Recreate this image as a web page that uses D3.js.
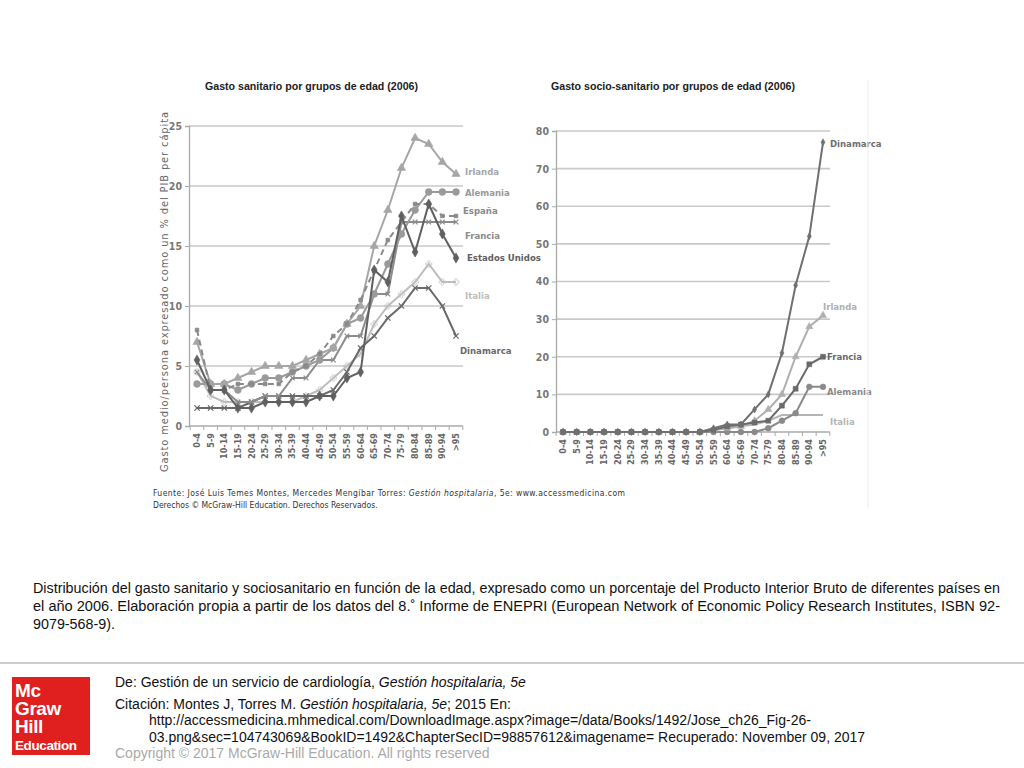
<!DOCTYPE html>
<html>
<head>
<meta charset="utf-8">
<script src="https://cdn.jsdelivr.net/npm/d3@7"></script>
<style>
  body { margin: 0; background: #fff; }
  text { font-family: "Liberation Sans", Arial, sans-serif; }
  .cond { font-family: "DejaVu Sans Condensed", "Liberation Sans Narrow", sans-serif; }
</style>
</head>
<body>
<div id="chart"></div>
<script>
// age groups shared by both charts
var ages = ["0-4", "5-9", "10-14", "15-19", "20-24", "25-29", "30-34", "35-39", "40-44", "45-49",
  "50-54", "55-59", "60-64", "65-69", "70-74", "75-79", "80-84", "85-89", "90-94", ">95"];

// Gasto sanitario (% PIB per cápita)
var irlanda = [7, 3.5, 3.5, 4, 4.5, 5, 5, 5, 5.5, 6, 6.5, 8.5, 10, 15, 18, 21.5, 24, 23.5, 22, 21];
var alemania = [3.5, 3.5, 3.5, 3, 3.5, 4, 4, 4.5, 5, 5.5, 6.5, 8.5, 9, 11, 13.5, 16, 18, 19.5, 19.5, 19.5];
var espana = [8, 3, 3, 3.5, 3.5, 3.5, 3.5, 4.5, 5, 6, 7.5, 8.5, 10.5, 13, 15.5, 17, 18.5, 18.5, 17.5, 17.5];
var francia = [4.5, 3, 3, 2, 2, 2.5, 2.5, 4, 4, 5.5, 5.5, 7.5, 7.5, 11, 11, 17, 17, 17, 17, 17];
var eeuu = [5.5, 3, 3, 1.5, 1.5, 2, 2, 2, 2, 2.5, 2.5, 4, 4.5, 13, 12, 17.5, 14.5, 18.5, 16, 14];
var italia = [4.5, 2.5, 2, 2, 2, 2, 2, 2, 2.5, 3, 4, 5, 6, 8.5, 10, 11, 12, 13.5, 12, 12];
var dinamarca = [1.5, 1.5, 1.5, 1.5, 2, 2.5, 2.5, 2.5, 2.5, 2.5, 3, 4.5, 6.5, 7.5, 9, 10, 11.5, 11.5, 10, 7.5];

// Gasto socio-sanitario
var dinamarcaSS = [0, 0, 0, 0, 0, 0, 0, 0, 0, 0, 0, 1, 2, 2, 6, 10, 21, 39, 52, 77];
var irlandaSS = [0, 0, 0, 0, 0, 0, 0, 0, 0, 0, 0, 0.5, 1, 1.5, 3, 6, 10, 20, 28, 31];
var franciaSS = [0, 0, 0, 0, 0, 0, 0, 0, 0, 0, 0, 0.5, 1.5, 2, 2.5, 3, 7, 11.5, 18, 20];
var alemaniaSS = [0, 0, 0, 0, 0, 0, 0, 0, 0, 0, 0, 0, 0, 0, 0, 1, 3, 5, 12, 12];
var italiaSS = [0, 0, 0, 0, 0, 0, 0, 0, 0, 0, 0, 0.5, 1, 1.5, 2, 3, 4.5, 4.5, 4.5, 4.5];

var leftTicks = [0, 5, 10, 15, 20, 25];
var rightTicks = [0, 10, 20, 30, 40, 50, 60, 70, 80];

var svg = d3.select("#chart").append("svg")
  .attr("width", 1024).attr("height", 768);
svg.append("rect").attr("width", 1024).attr("height", 768).attr("fill", "#fff");

function drawPanel(cfg) {
  var g = svg.append("g");
  var x = d3.scalePoint().domain(ages).range(cfg.xr);
  var y = d3.scaleLinear().domain(cfg.yd).range(cfg.yr);
  var step = x.step();

  // gridlines
  g.selectAll("line.grid").data(cfg.ticks.slice(1)).join("line")
    .attr("x1", cfg.x0).attr("x2", cfg.x1)
    .attr("y1", d => y(d)).attr("y2", d => y(d))
    .attr("stroke", "#c9c9c9").attr("stroke-width", 1.6);

  // axes
  var yAxis = d3.axisLeft(y).tickValues(cfg.ticks).tickSize(4).tickPadding(3);
  var ga = g.append("g").attr("transform", `translate(${cfg.x0},0)`).call(yAxis);
  ga.select(".domain").attr("stroke", "#aaa").attr("stroke-width", 1.3);
  ga.selectAll(".tick line").attr("stroke", "#aaa");
  ga.selectAll(".tick text").attr("class", "cond").attr("font-size", 10.5)
    .attr("fill", "#777").attr("font-weight", "bold");

  g.append("line").attr("x1", cfg.x0).attr("x2", cfg.x1)
    .attr("y1", y(0)).attr("y2", y(0)).attr("stroke", "#aaa").attr("stroke-width", 1.3);
  g.selectAll("line.xt").data(d3.range(ages.length + 1)).join("line")
    .attr("x1", i => cfg.xr[0] - step / 2 + i * step)
    .attr("x2", i => cfg.xr[0] - step / 2 + i * step)
    .attr("y1", y(0)).attr("y2", y(0) + 4).attr("stroke", "#aaa");
  g.selectAll("text.xl").data(ages).join("text")
    .attr("class", "cond")
    .attr("transform", d => `translate(${x(d) + 3},${y(0) + 7}) rotate(-90)`)
    .attr("text-anchor", "end").attr("font-size", 9).attr("font-weight", "bold")
    .attr("fill", "#666").text(d => d);

  // title
  g.append("text").attr("x", cfg.titleX).attr("y", 90)
    .attr("font-size", 11).attr("font-weight", "bold").attr("fill", "#222")
    .attr("textLength", cfg.titleW).attr("lengthAdjust", "spacingAndGlyphs")
    .text(cfg.title);

  var line = d3.line().x((d, i) => x(ages[i])).y(d => y(d));
  cfg.series.forEach(function (s) {
    g.append("path").datum(s.values)
      .attr("d", line).attr("fill", "none")
      .attr("stroke", s.color).attr("stroke-width", s.width || 2)
      .attr("stroke-dasharray", s.dash || null);
    if (s.symbol) {
      var sym = d3.symbol().type(s.symbol).size(s.size || 28);
      g.selectAll(null).data(s.values).join("path")
        .attr("transform", (d, i) => `translate(${x(ages[i])},${y(d)})`)
        .attr("d", sym)
        .attr("fill", s.symbol === d3.symbolX || s.symbol === d3.symbolCross ? "none" : s.color)
        .attr("stroke", s.color).attr("stroke-width", s.symbol === d3.symbolX ? 1.3 : 0.6);
    }
    g.append("text").attr("class", "cond")
      .attr("x", s.lx).attr("y", s.ly)
      .attr("font-size", 9.5).attr("font-weight", "bold").attr("fill", s.labelColor || s.color)
      .text(s.name);
  });
}

drawPanel({
  xr: [197, 456], yd: [0, 25], yr: [426, 126], x0: 189, x1: 463, ticks: leftTicks,
  title: "Gasto sanitario por grupos de edad (2006)", titleX: 205, titleW: 213,
  series: [
    { name: "Italia", values: italia, color: "#bdbdbd", symbol: d3.symbolCross, size: 22, lx: 465, ly: 299 },
    { name: "Dinamarca", values: dinamarca, color: "#6a6a6a", symbol: d3.symbolX, size: 20, lx: 460, ly: 354 },
    { name: "Francia", values: francia, color: "#8c8c8c", symbol: d3.symbolX, size: 16, lx: 465, ly: 239 },
    { name: "Alemania", values: alemania, color: "#9a9a9a", symbol: d3.symbolCircle, size: 36, lx: 465, ly: 196 },
    { name: "Irlanda", values: irlanda, color: "#a6a6a6", symbol: d3.symbolTriangle, size: 30, lx: 465, ly: 175 },
    { name: "España", values: espana, color: "#8a8a8a", dash: "6,4", symbol: d3.symbolSquare, size: 14, lx: 463, ly: 214 },
    { name: "Estados Unidos", values: eeuu, color: "#606060", symbol: d3.symbolDiamond, size: 30, lx: 467, ly: 261 }
  ]
});

drawPanel({
  xr: [563, 823], yd: [0, 80], yr: [432, 131], x0: 556, x1: 830, ticks: rightTicks,
  title: "Gasto socio-sanitario por grupos de edad (2006)", titleX: 551, titleW: 244,
  series: [
    { name: "Italia", values: italiaSS, color: "#b5b5b5", lx: 830, ly: 425 },
    { name: "Alemania", values: alemaniaSS, color: "#8a8a8a", symbol: d3.symbolCircle, size: 26, lx: 827, ly: 395 },
    { name: "Irlanda", values: irlandaSS, color: "#b0b0b0", symbol: d3.symbolTriangle, size: 22, lx: 823, ly: 310 },
    { name: "Francia", values: franciaSS, color: "#6a6a6a", symbol: d3.symbolSquare, size: 24, lx: 827, ly: 360 },
    { name: "Dinamarca", values: dinamarcaSS, color: "#707070", symbol: d3.symbolDiamond, size: 14, lx: 830, ly: 147 }
  ]
});

// y axis title left chart
svg.append("text").attr("class", "cond")
  .attr("transform", "translate(168,292) rotate(-90)")
  .attr("text-anchor", "middle").attr("font-size", 11).attr("fill", "#666")
  .attr("textLength", 360).attr("lengthAdjust", "spacing")
  .text("Gasto medio/persona expresado como un % del PIB per cápita");

// faint frame edge of the right figure
svg.append("line").attr("x1", 868).attr("x2", 868).attr("y1", 80).attr("y2", 508)
  .attr("stroke", "#eee");

// source lines
var src = svg.append("text").attr("class", "cond").attr("x", 153).attr("y", 496)
  .attr("font-size", 8.5).attr("fill", "#333").attr("textLength", 472).attr("lengthAdjust", "spacing");
src.append("tspan").text("Fuente: José Luis Temes Montes, Mercedes Mengíbar Torres: ");
src.append("tspan").attr("font-style", "italic").text("Gestión hospitalaria");
src.append("tspan").text(", 5e: www.accessmedicina.com");
svg.append("text").attr("class", "cond").attr("x", 153).attr("y", 508)
  .attr("font-size", 8.5).attr("fill", "#333")
  .text("Derechos © McGraw-Hill Education. Derechos Reservados.");

// caption
var caption = [
  "Distribución del gasto sanitario y sociosanitario en función de la edad, expresado como un porcentaje del Producto Interior Bruto de diferentes países en",
  "el año 2006. Elaboración propia a partir de los datos del 8.˚   Informe de ENEPRI (European Network of Economic Policy Research Institutes, ISBN 92-",
  "9079-568-9)."
];
svg.selectAll("text.cap").data(caption).join("text")
  .attr("x", 33).attr("y", (d, i) => 593 + i * 18)
  .attr("font-size", 14).attr("fill", "#111")
  .attr("textLength", (d, i) => i < 2 ? 967 : 82)
  .attr("lengthAdjust", "spacingAndGlyphs")
  .text(d => d);

// separator
svg.append("line").attr("x1", 0).attr("x2", 1024).attr("y1", 663).attr("y2", 663)
  .attr("stroke", "#ccc").attr("stroke-width", 2);

// logo (one text block, one line per word)
var logo = svg.append("g");
logo.append("rect").attr("x", 12).attr("y", 677).attr("width", 78).attr("height", 78).attr("fill", "#e0201f");
var logoText = logo.append("text").attr("font-weight", "bold").attr("fill", "#fff").attr("letter-spacing", -0.4);
[["Mc", 697, 19], ["Graw", 715, 19], ["Hill", 733, 19], ["Education", 750, 13.5]].forEach(function (t) {
  logoText.append("tspan").attr("x", 15).attr("y", t[1]).attr("font-size", t[2]).text(t[0]);
});

// footer
var fs = 14;
var f1 = svg.append("text").attr("x", 115).attr("y", 687).attr("font-size", fs).attr("fill", "#111");
f1.append("tspan").text("De: Gestión de un servicio de cardiología, ");
f1.append("tspan").attr("font-style", "italic").text("Gestión hospitalaria, 5e");
var f2 = svg.append("text").attr("x", 115).attr("y", 709).attr("font-size", fs).attr("fill", "#111");
f2.append("tspan").text("Citación: Montes J, Torres M. ");
f2.append("tspan").attr("font-style", "italic").text("Gestión hospitalaria, 5e");
f2.append("tspan").text("; 2015 En:");
svg.append("text").attr("x", 149).attr("y", 725).attr("font-size", fs).attr("fill", "#111")
  .text("http://accessmedicina.mhmedical.com/DownloadImage.aspx?image=/data/Books/1492/Jose_ch26_Fig-26-");
svg.append("text").attr("x", 149).attr("y", 742).attr("font-size", fs).attr("fill", "#111")
  .text("03.png&sec=104743069&BookID=1492&ChapterSecID=98857612&imagename= Recuperado: November 09, 2017");
svg.append("text").attr("x", 115).attr("y", 758).attr("font-size", fs).attr("fill", "#aaa")
  .text("Copyright © 2017 McGraw-Hill Education. All rights reserved");
</script>
</body>
</html>
